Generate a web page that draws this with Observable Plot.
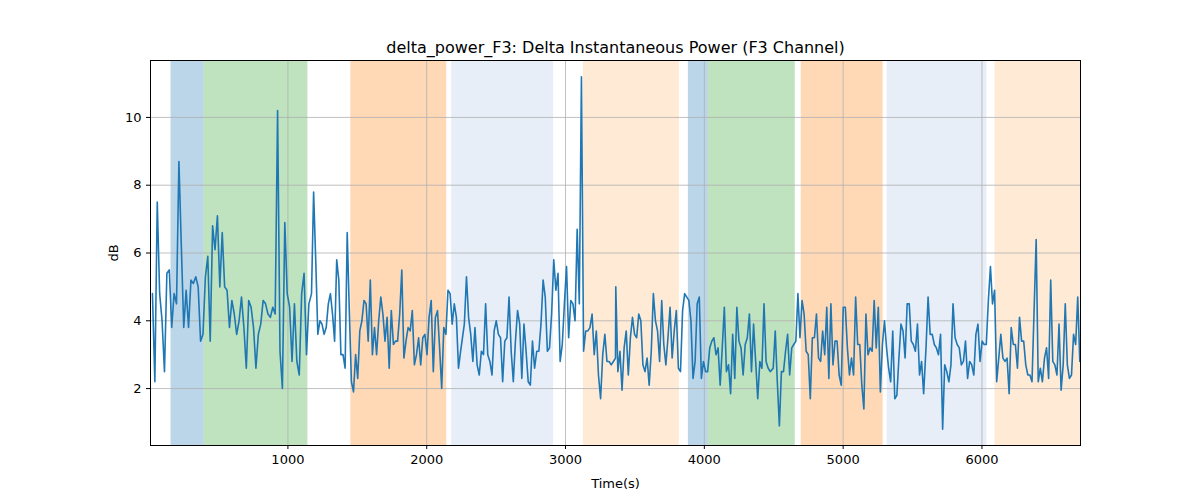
<!DOCTYPE html>
<html><head><meta charset="utf-8">
<script src="https://cdn.jsdelivr.net/npm/d3@7"></script>
<script src="https://cdn.jsdelivr.net/npm/@observablehq/plot@0.6"></script>
<style>body{margin:0;background:#fff;font-family:"DejaVu Sans",sans-serif}</style>
</head><body><div id="chart"></div>
<script>
const title = "delta_power_F3: Delta Instantaneous Power (F3 Channel)";
const seg1 = [4.8,2.2,7.5,4.8,4.0,2.5,5.4,5.5,3.8,4.8,4.5,8.7,6.2,3.8,4.9,3.8,5.2,5.1,5.3,5.0,3.4,3.6,5.3,5.9,3.4,6.8,6.1,7.1,5.0,6.6,5.0,4.9,3.8,4.6,4.2,3.6,4.0,4.7,3.8,2.6,4.6,4.4,3.8,2.6,3.6,3.9,4.6,4.5,4.2,4.1,4.4,4.2,10.2,3.1,2.0,6.9,4.8,4.4,2.8,4.5,2.8,2.4,4.8,5.4,3.0,4.5];
const seg2 = [4.8,7.8,5.8,3.6,4.0,3.9,3.6,3.8,4.5,4.8,4.2,3.4,5.8,5.2,3.0,3.0,2.6,6.6,4.3,2.2,1.9,3.0,2.3,3.7,4.0,4.6,4.5,3.4,5.2,3.0,3.8,3.0,4.0,4.7,4.2,3.4,4.1,2.6,4.3,3.3,3.4,3.4,4.2,5.5,2.9,3.4,3.8,3.7,4.3,2.7,3.0,3.5,2.7,3.5,3.6,3.0,4.1,4.6,2.5,4.1,4.3,3.2,2.0,3.8,3.6,4.9,4.8,3.9,4.5,4.1,2.6,3.1];
const seg3 = [3.9,5.3,4.1,3.6,2.8,3.8,2.7,2.4,3.1,3.0,4.5,3.0,2.8,2.4,3.7,4.0,3.6,3.5,2.2,3.4,3.5,4.7,3.1,2.2,3.4,4.3,3.9,2.3,3.9,3.1,2.2,2.1,3.4,2.6,3.1,3.1,3.9,5.2,4.7,3.1,3.2,4.2,5.8,4.9,5.4,2.8,3.3,4.5,5.6,3.5,4.6,4.5,4.0,6.7,4.5,11.2,3.1,3.7,3.7,3.8,4.2,3.0,3.7,2.4,1.7,3.0,3.6,2.8,2.8,2.7,2.8,2.9];
const seg4 = [5.0,2.5,3.1,1.95,3.2,3.7,2.4,3.5,4.1,3.6,3.5,4.2,4.0,2.7,2.5,2.9,2.1,3.1,4.8,4.0,3.7,2.8,4.6,3.3,2.7,3.5,4.4,2.9,3.7,4.3,2.6,2.5,4.3,4.8,4.7,4.6,4.0,2.3,2.8,4.5,4.7,2.3,2.8,2.5,2.5,3.2,3.4,3.5,3.0,3.2,2.1,3.2,4.4,2.5,2.7,1.85,3.6,2.3,4.4,3.4,3.2,2.4,3.3,3.5,4.2,2.5,3.9,2.8,1.7,2.8,2.6,4.5,2.8,2.6,2.5];
const seg5 = [2.6,3.7,2.2,0.9,2.5,2.5,3.1,3.6,2.4,3.2,3.3,3.4,4.8,3.5,4.6,4.2,3.1,3.0,1.7,3.5,3.5,4.2,2.9,2.8,3.7,3.0,4.4,2.3,4.5,2.7,3.4,3.4,2.4,2.1,4.4,4.4,3.2,2.4,2.9,2.4,4.7,3.3,3.3,2.1,1.4,4.2,3.0,3.2,3.1,4.6,3.2,4.4,1.9,3.3,4.0,3.2,2.6,2.2,3.7,1.7,1.8,2.9,3.9,3.7,2.9,4.5,4.5,3.4,3.3,3.1,3.9,2.4,2.8,1.85];
const seg6 = [3.2,4.7,3.6,3.6,3.3,3.2,3.0,3.6,0.8,2.7,2.5,2.2,2.7,4.5,3.5,3.3,3.2,2.7,2.8,3.4,2.3,2.8,2.7,2.4,3.6,3.9,2.8,3.4,3.3,3.3,4.6,5.6,4.5,4.9,2.2,2.9,3.6,2.9,2.8,2.9,1.85,3.8,3.3,3.3,2.6,4.1,3.4,3.4,2.7,2.4,2.4,2.2,4.3,6.4,2.2,2.6,2.2,2.9,3.2,2.3,5.2,2.8,2.7,2.4,3.9,1.95,2.7,4.5,2.7,2.3,2.4,3.6,3.3,4.7,2.8];
const segValues = [seg1, seg2, seg3, seg4, seg5, seg6];
const segStartT = [24, 1170, 2271, 3362, 4496, 5597];
const segEndT   = [1151, 2244, 3360, 4475, 5580, 6705];
const series = segValues.flatMap((vals, s) => vals.map((v, i) => ({
  t: segStartT[s] + i * (segEndT[s] - segStartT[s]) / (vals.length - 1), v})));

const spanStart = [158,396,1453,2180,3129,3885,4029,4698,5317,6094];
const spanEnd   = [396,1144,2144,2914,3820,4029,4655,5288,6036,6710];
const spanColor = ["#1f77b4","#2ca02c","#ff7f0e","#aec7e8","#ffbb78","#1f77b4","#2ca02c","#ff7f0e","#aec7e8","#ffbb78"];
const spans = spanStart.map((s, i) => ({x1: s, x2: spanEnd[i], c: spanColor[i]}));

const xTicks = [1000,2000,3000,4000,5000,6000];
const yTicks = [2,4,6,8,10];
const yMin = 0.32, yMax = 11.68;

const chart = Plot.plot({
  width: 1200, height: 500,
  marginLeft: 150, marginRight: 120, marginTop: 60, marginBottom: 55,
  style: {fontFamily: "DejaVu Sans, sans-serif", fontSize: "13px", color: "#000"},
  x: {domain: [10, 6710], ticks: xTicks, tickFormat: d => String(d), tickSize: 4, label: "Time(s)", labelAnchor: "center", labelArrow: "none", labelOffset: 42},
  y: {domain: [yMin, yMax], ticks: yTicks, tickSize: 4, label: "dB", labelAnchor: "center", labelArrow: "none", labelOffset: 42},
  marks: [
    Plot.rectX(spans, {x1: "x1", x2: "x2", y1: yMin, y2: yMax, fill: "c", fillOpacity: 0.3}),
    Plot.gridX(xTicks, {stroke: "#b0b0b0", strokeOpacity: 1, strokeWidth: 0.8}),
    Plot.gridY(yTicks, {stroke: "#b0b0b0", strokeOpacity: 1, strokeWidth: 0.8}),
    Plot.lineY(series, {x: "t", y: "v", stroke: "#1f77b4", strokeWidth: 1.6}),
    Plot.frame({stroke: "#000"}),
    Plot.text([title], {frameAnchor: "top", dy: -19, fontSize: 16, fill: "#000"})
  ]
});
document.getElementById("chart").appendChild(chart);
</script></body></html>
